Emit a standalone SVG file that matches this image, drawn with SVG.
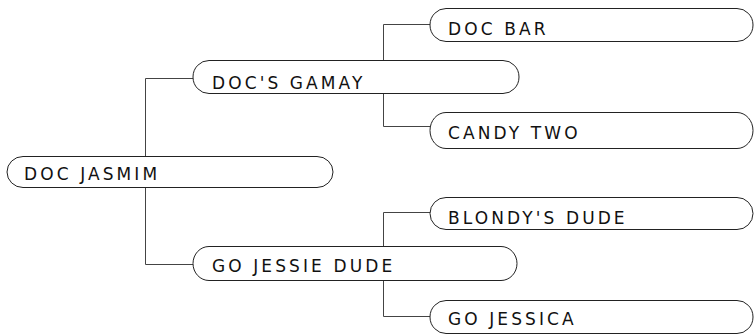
<svg xmlns="http://www.w3.org/2000/svg" width="755" height="334" viewBox="0 0 755 334">
<style>
.pill{fill:#fff;stroke:#222;stroke-width:1}
.lbl{font-family:"DejaVu Sans",Verdana,sans-serif;font-size:17px;letter-spacing:3.1px;fill:#111}
.conn{fill:none;stroke:#444;stroke-width:1}
</style>
<rect width="755" height="334" fill="#fff"/>
<g id="connectors">
<path class="conn" d="M145.5,78.5 V264.5 M145.5,78.5 H193 M145.5,264.5 H193"/>
<path class="conn" d="M383.5,24.5 V126.5 M383.5,24.5 H430 M383.5,126.5 H430"/>
<path class="conn" d="M383.5,212.5 V316.5 M383.5,212.5 H430 M383.5,316.5 H430"/>
</g>
<g id="doc-jasmim">
<path class="pill" d="M23,156.5 H317 A16,15.5 0 0 1 317,187.5 H23 A16,15.5 0 0 1 23,156.5 Z"/>
<text class="lbl" x="24" y="180">DOC JASMIM</text>
</g>
<g id="docs-gamay">
<path class="pill" d="M209,60.5 H503 A16,16.5 0 0 1 503,93.5 H209 A16,16.5 0 0 1 209,60.5 Z"/>
<text class="lbl" x="212" y="89">DOC'S GAMAY</text>
</g>
<g id="go-jessie-dude">
<path class="pill" d="M209,246.5 H501 A16,17 0 0 1 501,280.5 H209 A16,17 0 0 1 209,246.5 Z"/>
<text class="lbl" x="212" y="272">GO JESSIE DUDE</text>
</g>
<g id="doc-bar">
<path class="pill" d="M446,8.5 H737 A16,16.5 0 0 1 737,41.5 H446 A16,16.5 0 0 1 446,8.5 Z"/>
<text class="lbl" x="448" y="35">DOC BAR</text>
</g>
<g id="candy-two">
<path class="pill" d="M446,112.5 H737 A16,18 0 0 1 737,148.5 H446 A16,18 0 0 1 446,112.5 Z"/>
<text class="lbl" x="448" y="139">CANDY TWO</text>
</g>
<g id="blondys-dude">
<path class="pill" d="M446,197.5 H737 A16,16 0 0 1 737,229.5 H446 A16,16 0 0 1 446,197.5 Z"/>
<text class="lbl" x="448" y="224">BLONDY'S DUDE</text>
</g>
<g id="go-jessica">
<path class="pill" d="M446,300.5 H737 A16,16.5 0 0 1 737,333.5 H446 A16,16.5 0 0 1 446,300.5 Z"/>
<text class="lbl" x="448" y="325">GO JESSICA</text>
</g>
</svg>
